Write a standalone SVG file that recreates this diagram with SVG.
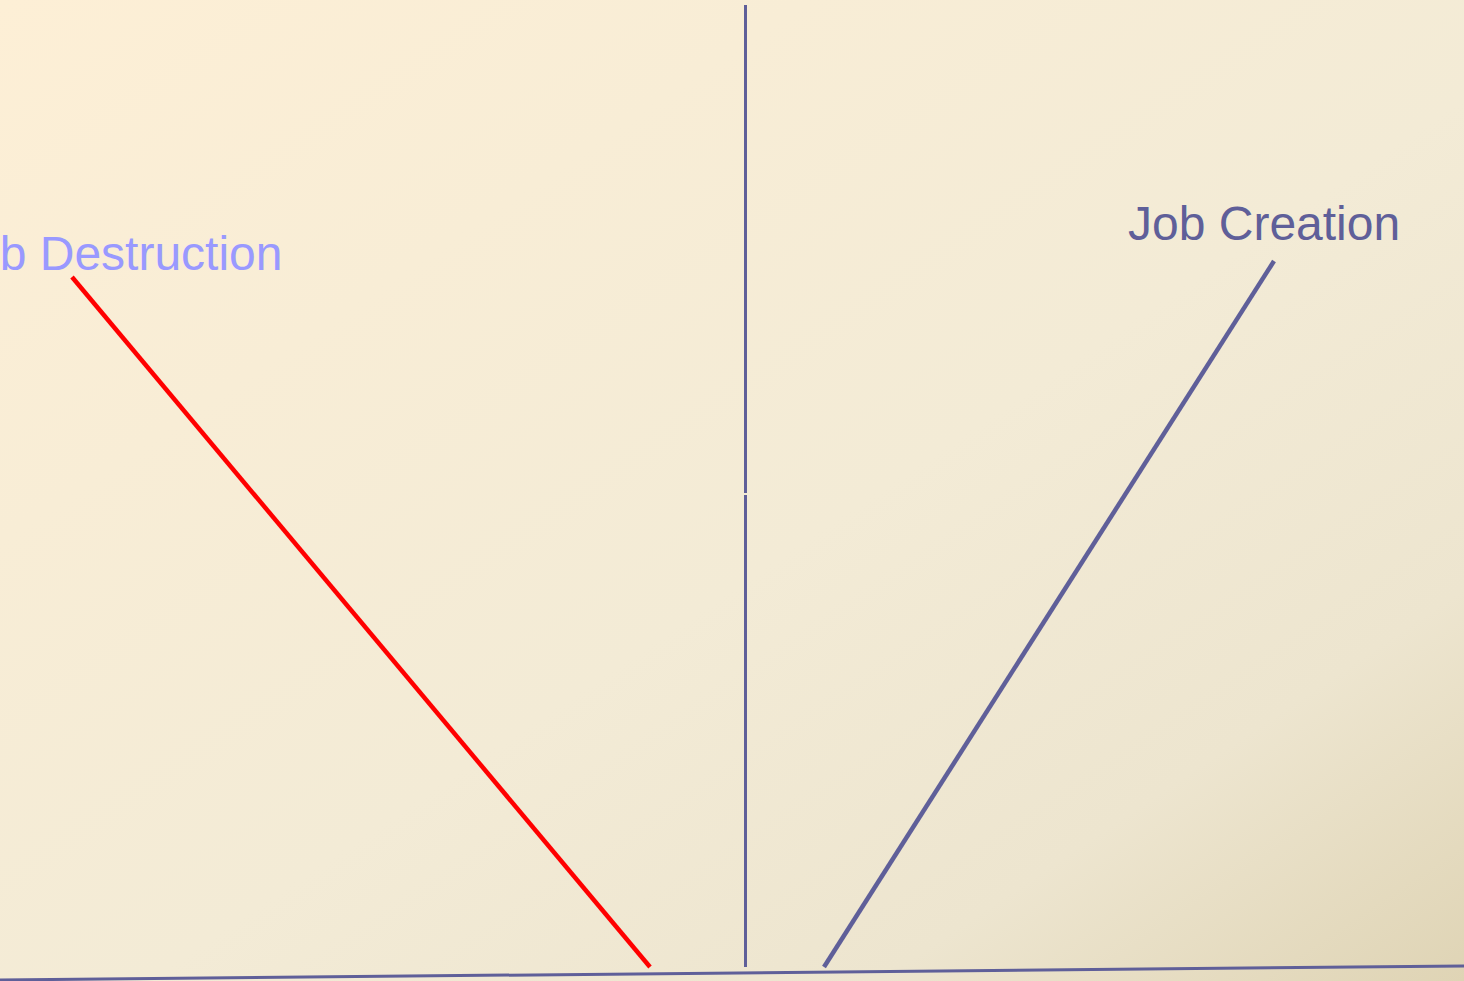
<svg xmlns="http://www.w3.org/2000/svg" width="1464" height="981" viewBox="0 0 1464 981">
<defs>
<linearGradient id="bg" x1="0" y1="0" x2="1" y2="1">
<stop offset="0" stop-color="#fdefd6"/>
<stop offset="0.55" stop-color="#f3ebd6"/>
<stop offset="0.8" stop-color="#ede5cf"/>
<stop offset="1" stop-color="#dfd4b5"/>
</linearGradient>
<style>
.ax{stroke:#5f5f99;stroke-width:3;fill:none}
.lbl{font-family:"Liberation Sans",Arial,sans-serif;font-size:48px}
</style>
</defs>
<rect x="0" y="0" width="1464" height="981" fill="url(#bg)"/>
<g id="connectors">
<line class="ax" x1="745.5" y1="5" x2="745.5" y2="493"/>
<line class="ax" x1="745.5" y1="495" x2="745.5" y2="967"/>
<line class="ax" x1="0" y1="980" x2="1464" y2="966"/>
<line x1="72" y1="277" x2="650" y2="967" stroke="#ff0000" stroke-width="4.5"/>
<line x1="1274" y1="261" x2="824" y2="967" stroke="#5f5f99" stroke-width="4.5"/>
</g>
<g id="job-destruction">
<text class="lbl" x="-51" y="270" fill="#9999ff">Job Destruction</text>
</g>
<g id="job-creation">
<text class="lbl" x="1128" y="240" fill="#5f5f99">Job Creation</text>
</g>
</svg>
